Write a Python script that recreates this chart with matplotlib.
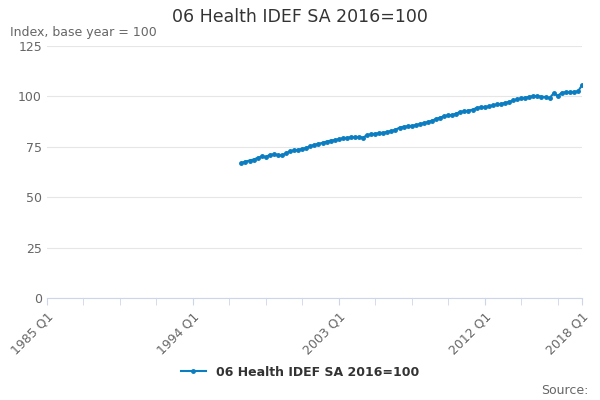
import matplotlib.pyplot as plt

# quarterly index values, 1997 Q1 to 2018 Q1
values = [
    67.0, 67.7, 68.2, 68.7,
    69.5, 70.2, 70.0, 71.0,
    71.2, 71.0, 70.8, 71.8,
    72.8, 73.2, 73.5, 74.0,
    74.5, 75.3, 76.0, 76.5,
    77.0, 77.6, 78.1, 78.4,
    78.8, 79.2, 79.5, 79.7,
    79.8, 79.9, 79.6, 80.8,
    81.2, 81.5, 81.8, 82.0,
    82.4, 82.9, 83.5, 84.5,
    85.0, 85.2, 85.4, 85.8,
    86.3, 86.8, 87.3, 88.0,
    88.8, 89.5, 90.2, 90.6,
    90.8, 91.5, 92.4, 92.6,
    93.0, 93.4, 94.3, 94.6,
    94.8, 95.0, 95.6, 96.0,
    96.3, 96.8, 97.3, 98.0,
    98.5, 99.0, 99.4, 99.8,
    100.2, 100.1, 99.9, 99.7,
    99.2, 101.5, 100.3, 101.8,
    102.1, 102.0, 102.3, 102.5,
    105.5,
]
start = 1997
x = [start + i / 4 for i in range(len(values))]

fig, ax = plt.subplots(figsize=(6, 4), dpi=100)
fig.subplots_adjust(left=0.078, right=0.97, top=0.885, bottom=0.255)
ax.plot(x, values, '-o', color='#0b7dc1', markersize=2.5, linewidth=1.5,
        label='06 Health IDEF SA 2016=100')
ax.set_xlim(1985, 2018)
ax.set_ylim(0, 125)
ax.set_yticks([0, 25, 50, 75, 100, 125])
ax.set_xticks([1985, 1994, 2003, 2012, 2018])
ax.set_xticklabels(['1985 Q1', '1994 Q1', '2003 Q1', '2012 Q1', '2018 Q1'],
                   rotation=45, ha='right', rotation_mode='anchor')
ax.set_xticks([1985 + 2.25 * i for i in range(15)], minor=True)
ax.tick_params(axis='x', which='both', length=5, color='#ccd6eb', labelcolor='#666666', labelsize=9)
ax.tick_params(axis='y', length=0, labelcolor='#666666', labelsize=9)
ax.grid(axis='y', color='#e6e6e6')
for s in ['top', 'right', 'left']:
    ax.spines[s].set_visible(False)
ax.spines['bottom'].set_color('#ccd6eb')
ax.set_axisbelow(True)

fig.suptitle('06 Health IDEF SA 2016=100', fontsize=12.5, color='#333333', y=0.98)
fig.text(0.017, 0.91, 'Index, base year = 100', fontsize=9, color='#666666')
fig.text(0.98, 0.015, 'Source:', fontsize=9, color='#666666', ha='right')
fig.legend(loc='lower center', bbox_to_anchor=(0.5, 0.025), frameon=False,
           prop={'size': 9, 'weight': 'bold'}, labelcolor='#333333')

plt.savefig('out.png')
